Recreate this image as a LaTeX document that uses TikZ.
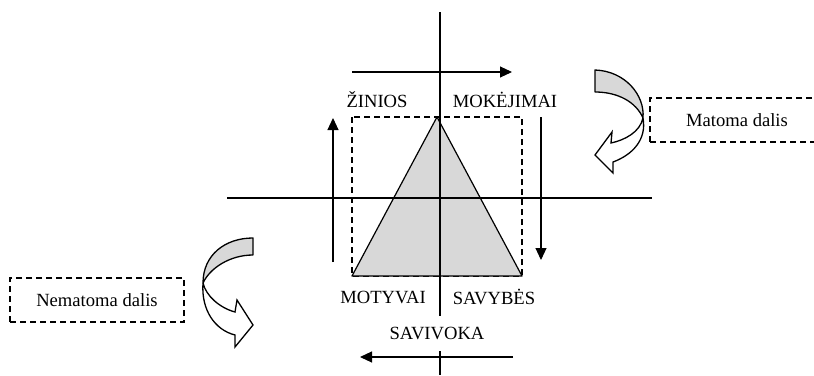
\documentclass[tikz,border=0pt]{standalone}
\usepackage{fontspec}
\setmainfont{Liberation Serif}
\usetikzlibrary{positioning,arrows.meta}
\definecolor{shade}{RGB}{216,216,216}
\tikzset{
  axis/.style={draw=black, line width=1.9pt},
  flow/.style={-{Triangle[length=12pt,width=11pt]}, line width=1.1pt},
  lbl/.style={font=\fontsize{18.6}{20}\selectfont, inner sep=1pt, text=black},
  dbox/.style={draw, dash pattern=on 6pt off 4pt, line width=1.3pt,
    font=\fontsize{18.6}{20}\selectfont, inner sep=3pt},
  tri/.style={draw, fill=shade, line width=1.2pt, line join=round},
  bendg/.style={draw, fill=shade, line width=1.3pt, line join=round},
  bendw/.style={draw, fill=white, line width=1.3pt, line join=miter},
}
\begin{document}
\begin{tikzpicture}[x=1pt, y=-1pt]
  \clip (0,0) rectangle (814,375);
  \fill[white] (0,0) rectangle (814,375);
  % dashed frame and triangle
  \draw[dash pattern=on 6pt off 4pt, line width=1.3pt] (352,117) rectangle (522,276);
  \coordinate (apex) at (437,117);
  \coordinate (bl) at (352,276);
  \coordinate (br) at (522,276);
  \draw[tri] (apex) -- (bl) -- (br) -- cycle;
  % axes
  \coordinate (vtop) at (440,12);
  \coordinate (vbot) at (440,375);
  \coordinate (hl) at (227,198);
  \coordinate (hr) at (652,198);
  \draw[axis] (vtop) -- (vbot);
  \draw[line width=1.7pt] (hl) -- (hr);
  % labels
  \node[lbl] (zinios) at (377,100) {ŽINIOS};
  \node[lbl] (mokej) at (505,100) {MOKĖJIMAI};
  \node[lbl] (motyv) at (383,297) {MOTYVAI};
  \node[lbl] (savyb) at (494,297) {SAVYBĖS};
  \node[lbl, fill=white, minimum height=35pt] (saviv) at (437,333) {SAVIVOKA};
  % side arrows
  \coordinate (ta) at (352,72);  \coordinate (tb) at (512,72);
  \coordinate (ra) at (541,117); \coordinate (rb) at (541,260);
  \coordinate (ba) at (513,357); \coordinate (bb) at (360,357);
  \coordinate (la) at (333,262); \coordinate (lb) at (333,118);
  \draw[flow] (ta) -- (tb);
  \draw[flow] (ra) -- (rb);
  \draw[flow] (ba) -- (bb);
  \draw[flow] (la) -- (lb);
  % text boxes
  \node[dbox, minimum width=174pt, minimum height=44pt] (nemat) at (97,300) {Nematoma dalis};
  \node[dbox, minimum width=174pt, minimum height=44pt] (matom) at (737,120) {Matoma dalis};
  % curved arrow, right
  \draw[bendg] (595,70) .. controls (625,71) and (645,95) .. (643,118)
    .. controls (636,102) and (618,92) .. (595,92) -- cycle;
  \draw[bendw] (643,118) .. controls (640,132) and (625,140) .. (611,143)
    -- (612,132) -- (595,155) -- (613,173) -- (613,162)
    .. controls (632,155) and (647,140) .. (643,118);
  % curved arrow, left
  \draw[bendg] (253,238) .. controls (225,238) and (203,255) .. (203,283)
    .. controls (210,268) and (230,255) .. (253,255) -- cycle;
  \draw[bendw] (203,283) .. controls (206,296) and (220,308) .. (235,312)
    -- (237,300) -- (253,325) -- (235,347) -- (235,335)
    .. controls (215,330) and (201,310) .. (203,283);
\end{tikzpicture}
\end{document}
